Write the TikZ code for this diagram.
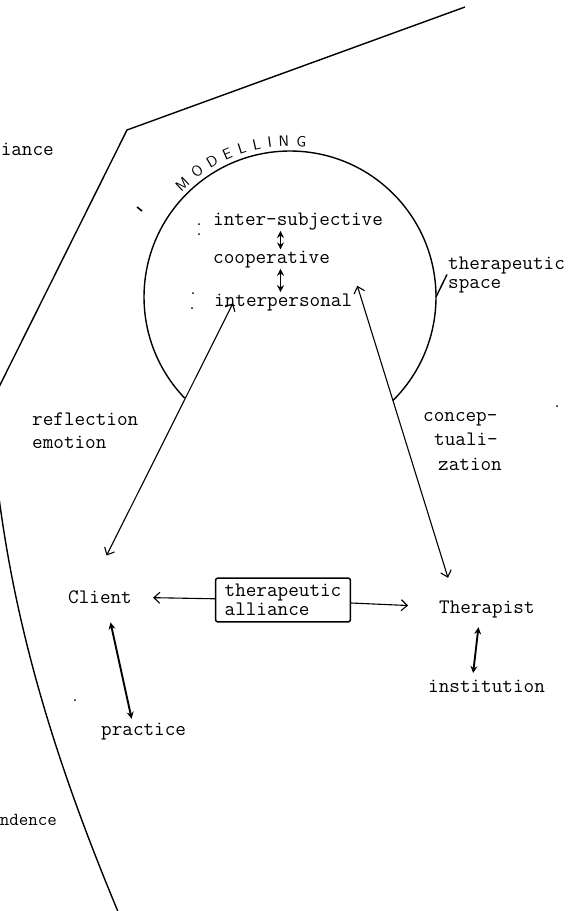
\documentclass[tikz,border=0pt]{standalone}
\usepackage{fontspec}
\usetikzlibrary{arrows.meta,calc,decorations.text}
\newcommand\twfont{\ttfamily\fontsize{20.6}{23}\selectfont}

\begin{document}
\begin{tikzpicture}[x=1pt, y=1pt, >=Stealth,
  every node/.style={font=\twfont, inner sep=1pt},
  edge/.style={line width=1.4pt},
  link/.style={line width=1.1pt,
    {Straight Barb[length=6pt,width=11pt]}-{Straight Barb[length=6pt,width=11pt]}},
  oneway/.style={line width=1.1pt, -{Straight Barb[length=6pt,width=11pt]}},
  tight/.style={line width=1.9pt, {Stealth[length=7pt,width=7pt]}-{Stealth[length=7pt,width=7pt]}},
  allybox/.style={draw, line width=1.5pt, rounded corners=2pt, align=left,
    inner xsep=9pt, inner ysep=6pt, font=\ttfamily\fontsize{20.6}{19}\selectfont}]
  \useasboundingbox (0,0) rectangle (577,-911);

  % outer boundary
  \draw[edge] (465,-7) -- (127,-130) -- (-3,-391);
  \draw[edge] (-2,-490) .. controls (15.7,-630.7) and (55,-761) .. (119,-914);
  \node[anchor=base east] (iance) at (55,-155) {iance};
  \node[anchor=base east, font=\ttfamily\fontsize{18.4}{20}\selectfont] (ndence) at (58,-825) {ndence};

  % therapeutic space
  \coordinate (ctr) at (290,-297);
  \draw[edge] ([shift={(-45.2:146)}]ctr) arc[start angle=-45.2, end angle=223.8, radius=146];
  \path[decorate, decoration={text along path, text align=fit to path,
      text={|\sffamily\fontsize{15}{15}\selectfont|MODELLING}}]
    ([shift={(136:151)}]ctr) arc[start angle=136, end angle=84, radius=151];
  \draw[line width=1.6pt] (137,-207) -- (142,-211);
  \foreach \dx/\dy in {199/224, 199/234, 193/293, 192/308, 557/406, 75/700} {
    \fill (\dx,-\dy) circle (1);
  }

  \node[anchor=base west] (isubj) at (212,-225) {inter-subjective};
  \node[anchor=base west] (coop) at (212,-263) {cooperative};
  \node[anchor=base west] (interp) at (213,-306) {interpersonal};
  \coordinate (axis) at (280.5,0);
  \draw[tight] (isubj.south -| axis) -- (coop.north -| axis);
  \draw[tight] (coop.south -| axis) -- (interp.north -| axis);

  \node[anchor=base west, align=left, font=\ttfamily\fontsize{20.6}{19}\selectfont]
    (tspace) at (447,-288) {therapeutic\\space};
  \draw[edge] ([shift={(0:146)}]ctr) -- (tspace.west);

  % client and therapist
  \node[anchor=base west] (client) at (67,-603) {Client};
  \node[anchor=base west] (ther) at (438,-613) {Therapist};
  \node[allybox] (ally) at (283,-600) {therapeutic\\alliance};
  \node[anchor=base west] (prac) at (100,-735) {practice};
  \node[anchor=base west] (inst) at (427,-692) {institution};

  \node[anchor=base west, align=left] (refl) at (31,-448) {reflection\\emotion};
  \node[anchor=base west, align=left, font=\ttfamily\fontsize{20.6}{24.5}\selectfont]
    (concept) at (422,-470) {concep-\\\hspace*{11pt}tuali-\\\hspace*{15pt}zation};

  \draw[link] ([shift={(6.5,33.4)}]client.north) -- ([shift={(20,8.6)}]interp.south west);
  \draw[link] ([shift={(4,6.4)}]interp.north east) -- ([shift={(10,21.4)}]ther.north west);
  \draw[oneway, shorten >=20pt] (ally) -- (client);
  \draw[oneway, shorten >=30pt] (ally) -- (ther);
  \draw[tight] ([shift={(10.5,-18)}]client.south) -- ([shift={(-12,2.6)}]prac.north);
  \draw[tight] ([shift={(-8.5,-8.4)}]ther.south) -- ([shift={(-13.4,5.4)}]inst.north);
\end{tikzpicture}
\end{document}
